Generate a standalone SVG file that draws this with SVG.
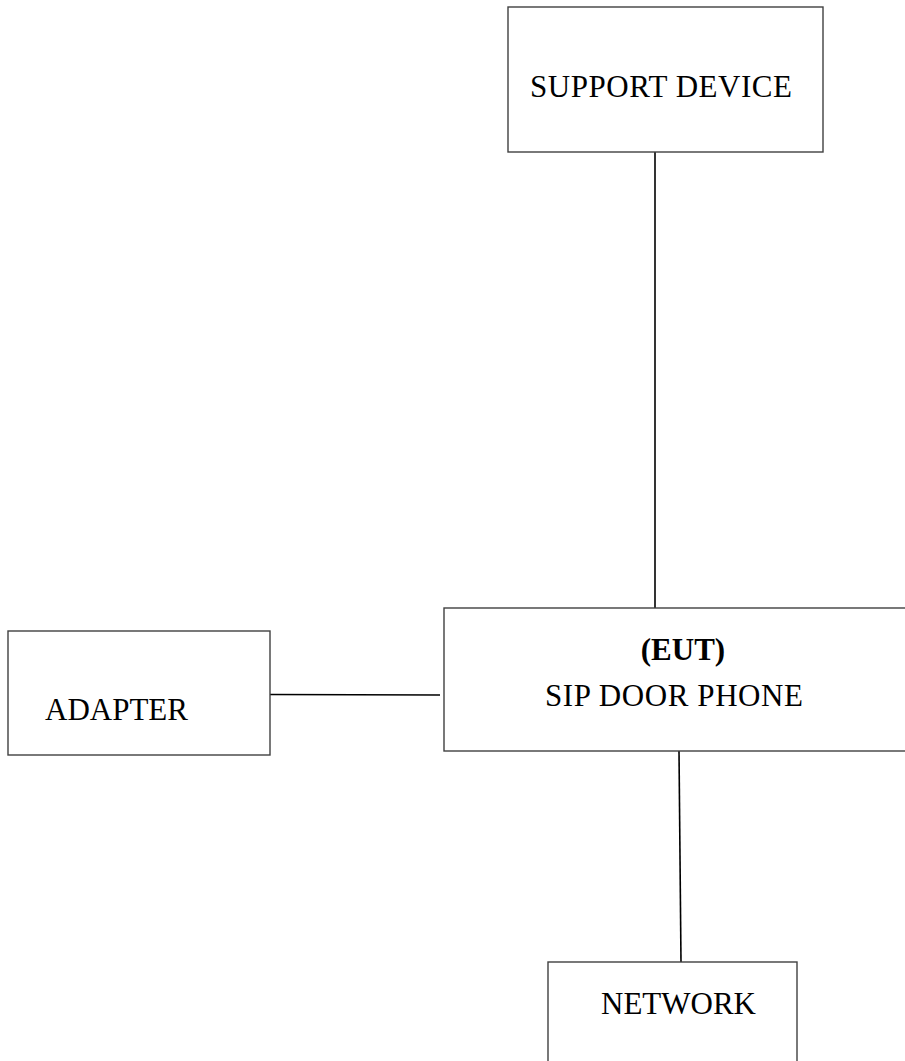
<svg xmlns="http://www.w3.org/2000/svg" width="905" height="1061" viewBox="0 0 905 1061">
<style>
.box{fill:#fff;stroke:#404040;stroke-width:1.4}
.lbl{font-family:"Liberation Serif","Times New Roman",serif;font-size:31px;fill:#000}
.b{font-weight:bold}
.con{stroke:#000;stroke-width:1.6;fill:none}
</style>
<rect width="905" height="1061" fill="#fff"/>
<g id="connectors">
<line class="con" x1="655" y1="152" x2="655" y2="608"/>
<line class="con" x1="270" y1="694.5" x2="440" y2="695"/>
<line class="con" x1="679" y1="751" x2="681" y2="962"/>
</g>
<g id="support-device">
<rect class="box" x="508" y="7" width="315" height="145"/>
<text class="lbl" x="530" y="97" textLength="262">SUPPORT DEVICE</text>
</g>
<g id="eut">
<rect class="box" x="444" y="608" width="464" height="143"/>
<text class="lbl b" x="683" y="660" text-anchor="middle">(EUT)</text>
<text class="lbl" x="545" y="706" textLength="258">SIP DOOR PHONE</text>
</g>
<g id="adapter">
<rect class="box" x="8" y="631" width="262" height="124"/>
<text class="lbl" x="45" y="720">ADAPTER</text>
</g>
<g id="network">
<rect class="box" x="548" y="962" width="249" height="110"/>
<text class="lbl" x="601" y="1014">NETWORK</text>
</g>
</svg>
